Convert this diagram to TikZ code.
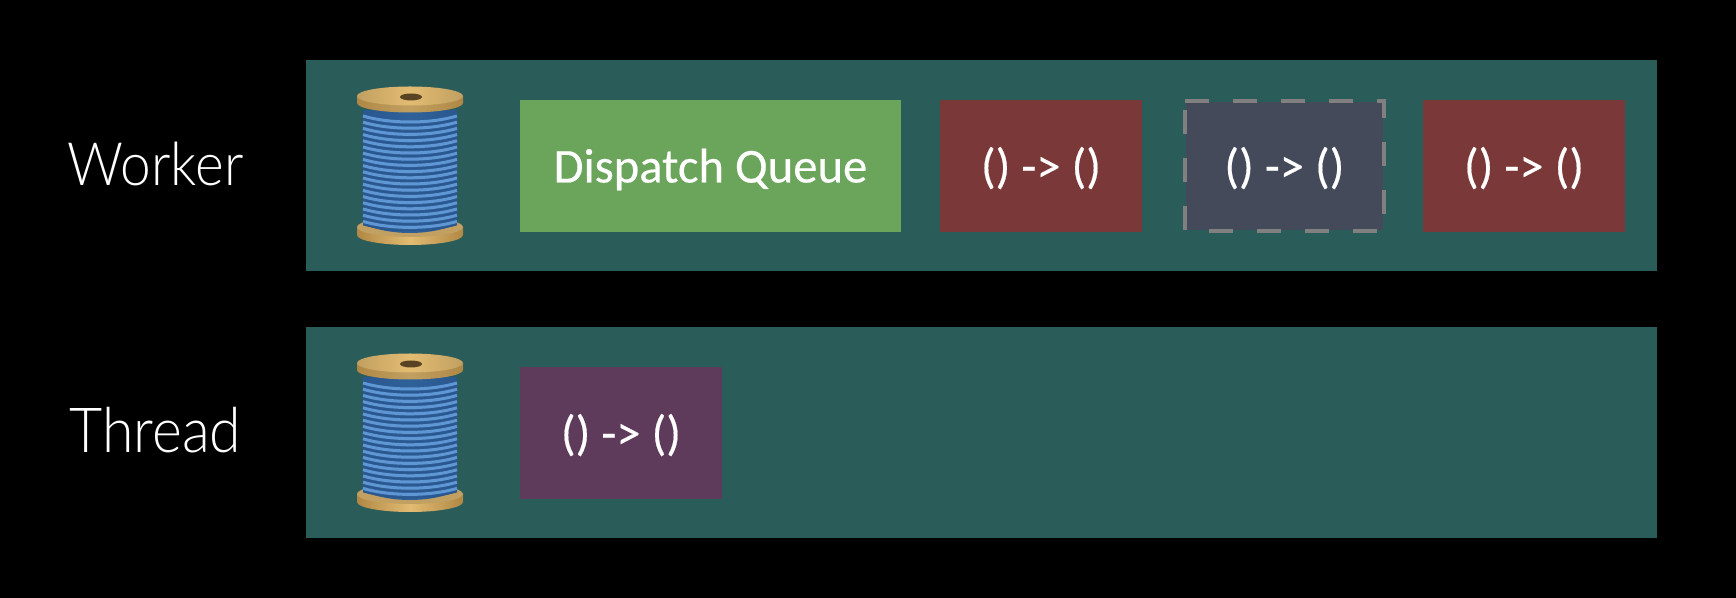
\documentclass[tikz,border=0pt]{standalone}
\usepackage{fontspec}
\setmainfont{Carlito}[BoldFont=Carlito,BoldFeatures={FakeBold=0.35}]
\newfontfamily\lightfont[FakeStretch=0.92]{Lato Light}
\definecolor{panelteal}{HTML}{2A5C5A}
\definecolor{queuegreen}{HTML}{6BA45B}
\definecolor{closurered}{HTML}{7A3938}
\definecolor{closuregray}{HTML}{454A5B}
\definecolor{closurepurple}{HTML}{5E3A5B}
\definecolor{dashgray}{HTML}{808080}
\definecolor{woodlight}{HTML}{E3BC72}
\definecolor{wooddark}{HTML}{B08845}
\definecolor{threadbase}{HTML}{2F6199}
\definecolor{threadlight}{HTML}{5F96D4}
\definecolor{threaddark}{HTML}{2A5790}
\tikzset{
  panel/.style={fill=panelteal,minimum width=13.51cm,minimum height=2.11cm,inner sep=0pt},
  rowlabel/.style={text=white,font=\lightfont\fontsize{17}{20}\selectfont,inner sep=0pt},
  boxlabel/.style={text=white,font=\bfseries\fontsize{13.85}{17}\selectfont,inner sep=0pt,minimum height=1.32cm,text height=0.36cm,text depth=0.03cm},
  closure/.style={boxlabel,minimum width=2.02cm},
  spool/.pic={
    % Bottom flange
    \shade [left color=wooddark,right color=wooddark,middle color=woodlight]
      (-0.53,-0.61) -- (-0.53,-0.69) arc (180:360:0.53 and 0.10) -- (0.53,-0.61) -- cycle;
    \fill [woodlight!85!black] (0,-0.61) ellipse (0.53 and 0.10);
    % Thread body
    \shade [left color=threaddark,right color=threaddark,middle color=threadbase]
      (-0.47,0.56) -- (0.47,0.56) -- (0.47,-0.58) .. controls (0.2,-0.70) and (-0.2,-0.70) .. (-0.47,-0.58) -- cycle;
    % Thread turns
    \foreach \turn in {0,...,17} {
      \draw [threadlight,line width=0.03cm]
        (-0.47,0.50-\turn*0.062) .. controls (-0.2,0.42-\turn*0.062) and (0.2,0.42-\turn*0.062) .. (0.47,0.50-\turn*0.062);
      \draw [threaddark,line width=0.015cm]
        (-0.47,0.468-\turn*0.062) .. controls (-0.2,0.388-\turn*0.062) and (0.2,0.388-\turn*0.062) .. (0.47,0.468-\turn*0.062);
    }
    % Top flange
    \shade [left color=wooddark,right color=wooddark,middle color=woodlight!85!black]
      (-0.53,0.70) -- (-0.53,0.63) arc (180:360:0.53 and 0.095) -- (0.53,0.70) -- cycle;
    \shade [left color=woodlight!85!black,right color=woodlight!85!black,middle color=woodlight] (0,0.70) ellipse (0.53 and 0.095);
    % Spool hole
    \fill [wooddark!50!black] (0.01,0.69) ellipse (0.11 and 0.035);
  }
}
\begin{document}
\begin{tikzpicture}
  \useasboundingbox (0,0) rectangle (17.36,5.98);
  \fill [black] (0,0) rectangle (17.36,5.98);

  % Row panels
  \node [panel] (workerpanel) at (9.815,4.325) {};
  \node [panel] (threadpanel) at (9.815,1.655) {};

  % Row labels
  \node [rowlabel] (workerlabel) at (1.555,4.34) {Worker};
  \node [rowlabel,font=\lightfont\fontsize{17.7}{20}\selectfont] (threadlabel) at (1.555,1.68) {Thread};

  % Spools
  \pic at (4.10,4.32) {spool};
  \pic at (4.10,1.65) {spool};

  % Worker row boxes
  \node [boxlabel,fill=queuegreen,minimum width=3.81cm] (queue) at (7.105,4.32) {Dispatch Queue};
  \node [closure,fill=closurered] (closurea) at (10.41,4.32) {() -> ()};
  \node [closure,fill=closuregray,minimum width=1.978cm,minimum height=1.28cm] (closureb) at (12.844,4.32) {() -> ()};
  \node [closure,fill=closurered] (closurec) at (15.24,4.32) {() -> ()};

  % Dashed outline of the second closure
  \draw [dashgray,line width=0.04cm,dash pattern=on 0.24cm off 0.24cm]
    (closureb.north west) -- (closureb.north east) -- (closureb.south east) -- (closureb.south west) -- cycle;

  % Thread row box
  \node [closure,fill=closurepurple] (closured) at (6.21,1.65) {() -> ()};
\end{tikzpicture}
\end{document}
